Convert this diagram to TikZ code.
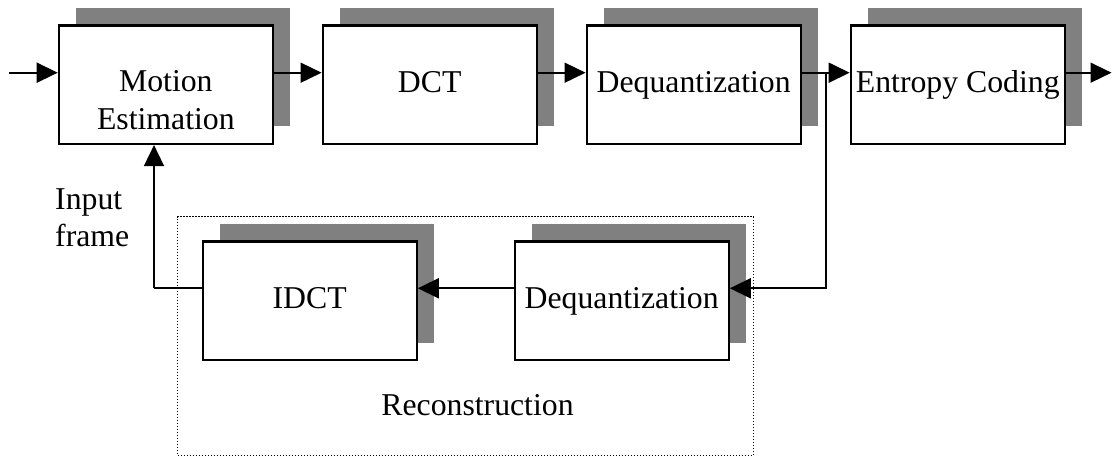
\documentclass[tikz,border=0pt]{standalone}
\usepackage{fontspec}
\setmainfont{Liberation Serif}
\usetikzlibrary{arrows.meta,shadows}
\definecolor{shadowgray}{HTML}{808080}
\begin{document}
\begin{tikzpicture}[x=1pt,y=-1pt,
  stagebox/.style={draw, line width=2.3pt, fill=white,
    minimum width=214pt, minimum height=118.5pt, inner sep=0pt,
    general shadow={fill=shadowgray, shadow xshift=17.5pt, shadow yshift=17.5pt}},
  lbl/.style={font=\fontsize{31.75}{37.5}\selectfont, inner sep=0pt, anchor=base, align=center},
  conn/.style={line width=1.7pt, -{Triangle[length=21pt,width=20pt]}},
  wire/.style={line width=1.7pt},
  groupbox/.style={draw, line width=1.5pt, dash pattern=on 1.5pt off 1.5pt,
    minimum width=575.6pt, minimum height=238.8pt, inner sep=0pt}]
\useasboundingbox (0,0) rectangle (1112,457);

% reconstruction loop enclosure
\node[groupbox] (recon) at (465.5,336.1) {};

% encoder stages
\node[stagebox] (me)   at (165.85,84.7) {};
\node[stagebox] (dct)  at (429.7,84.7) {};
\node[stagebox] (deq)  at (693.7,84.7) {};
\node[stagebox] (ec)   at (957.8,84.7) {};
\node[stagebox] (idct) at (309.65,300.85) {};
\node[stagebox] (deqb) at (621.65,300.85) {};

% stage labels (multi-line labels sit on the baseline of their last line)
\node[lbl] (tme)   at (165.85,129.3) {Motion\\Estimation};
\node[lbl] (tdct)  at (429.7,92.7) {DCT};
\node[lbl] (tdeq)  at (693.7,92.7) {Dequantization};
\node[lbl] (tec)   at (957.8,92.7) {Entropy Coding};
\node[lbl] (tidct) at (309.65,308.8) {IDCT};
\node[lbl] (tdeqb) at (621.65,308.5) {Dequantization};
\node[lbl] (trec)  at (477.5,415) {Reconstruction};
\node[lbl, anchor=base west, align=left] (tin) at (55,246.7) {Input\\frame};

% connector end points
\coordinate (src)  at (9.3,72.7);
\coordinate (sink) at (1111.5,72.7);
\coordinate (br)   at (826,72.7);
\coordinate (fb)   at (154,288.3);

% forward path
\draw[conn] (src) -- (me.west |- src);
\draw[conn] (me.east |- src) -- (dct.west |- src);
\draw[conn] (dct.east |- src) -- (deq.west |- src);
\draw[conn] (deq.east |- src) -- (ec.west |- src);
\draw[conn] (ec.east |- src) -- (sink);

% reconstruction loop
\draw[conn] (br) |- (deqb.east |- fb);
\draw[conn] (deqb.west |- fb) -- (idct.east |- fb);
\draw[wire] (idct.west |- fb) -- (fb);
\draw[conn] (fb) -- (fb |- me.south);
\end{tikzpicture}
\end{document}
